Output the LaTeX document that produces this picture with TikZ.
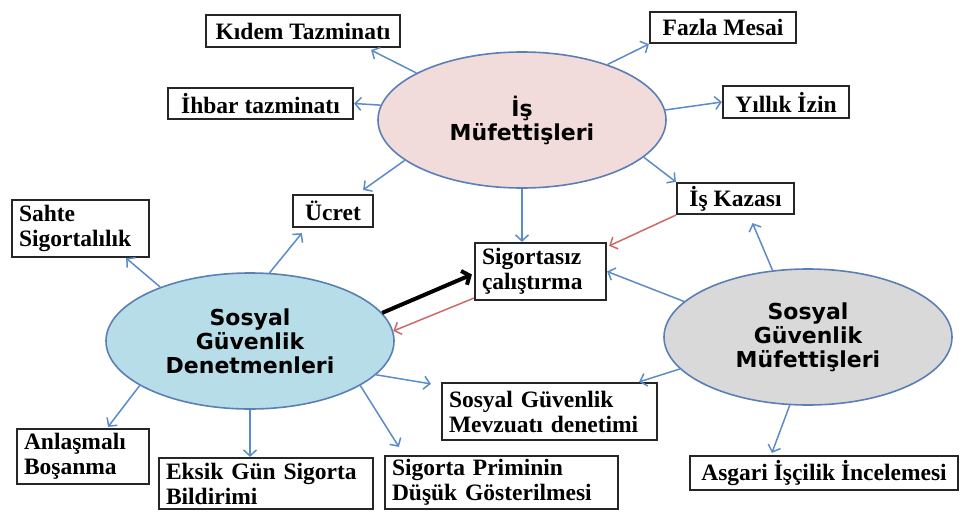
\documentclass[tikz,border=0pt]{standalone}
\usepackage{fontspec}
\setmainfont{Liberation Serif}
\newfontfamily\ellfont{DejaVu Sans}
\usetikzlibrary{shapes.geometric,arrows.meta,calc}
\definecolor{boxline}{HTML}{262626}
\definecolor{ellline}{HTML}{5B7FB5}
\definecolor{arrblue}{HTML}{5B8BC9}
\definecolor{arrred}{HTML}{CD6A68}
\definecolor{pinkfill}{HTML}{F2DCDB}
\definecolor{bluefill}{HTML}{B7DEE8}
\definecolor{grayfill}{HTML}{D9D9D9}
\begin{document}
\begin{tikzpicture}[x=1pt,y=-1pt,
  box/.style={draw=boxline, line width=2.2pt, fill=white, inner xsep=7pt, inner ysep=0pt,
    font=\bfseries\fontsize{23.5}{25}\selectfont},
  twoline/.style={align=left, minimum height=#1},
  ell/.style={ellipse, draw=ellline, line width=1.6pt, minimum width=288pt, minimum height=136pt,
    inner sep=0pt, align=center, font=\ellfont\bfseries\fontsize{22}{24}\selectfont},
  arr/.style={draw=arrblue, line width=1.5pt, -{Straight Barb[length=6pt,width=13pt]}},
  redarr/.style={draw=arrred, line width=1.5pt, -{Straight Barb[length=6pt,width=13pt]}},
  blkarr/.style={draw=black, line width=4pt, -{Straight Barb[length=6pt,width=15pt]}}]
\useasboundingbox (0,0) rectangle (960,511);

% ellipses
\node[ell, fill=pinkfill] (A) at (522,120) {İş\\Müfettişleri};
\node[ell, fill=bluefill] (B) at (250,341) {Sosyal\\Güvenlik\\Denetmenleri};
\node[ell, fill=grayfill] (C) at (808,337) {Sosyal\\Güvenlik\\Müfettişleri};

% boxes
\node[box, minimum width=194pt, minimum height=32pt] (kidem) at (303,31) {Kıdem Tazminatı};
\node[box, minimum width=185pt, minimum height=31pt] (ihbar) at (260.5,103.5) {İhbar tazminatı};
\node[box, minimum width=80pt, minimum height=32pt] (ucret) at (333,211) {Ücret};
\node[box, text width=123pt, twoline=57pt] (sahte) at (80.5,228.5) {Sahte\\Sigortalılık};
\node[box, minimum width=146pt, minimum height=31pt] (fazla) at (723,27.5) {Fazla Mesai};
\node[box, minimum width=126pt, minimum height=32pt] (yillik) at (786,102) {Yıllık İzin};
\node[box, minimum width=117pt, minimum height=31pt] (kaza) at (735.5,198.5) {İş Kazası};
\node[box, text width=117pt, twoline=57pt] (sig) at (540.5,271.5) {Sigortasız\\çalıştırma};
\node[box, text width=118pt, twoline=55pt] (anl) at (83,456.5) {Anlaşmalı\\Boşanma};
\node[box, text width=200pt, twoline=51pt] (eksik) at (266,483.5) {Eksik Gün Sigorta\\Bildirimi};
\node[box, text width=219pt, twoline=53pt] (prim) at (501.5,482.5) {Sigorta Priminin\\Düşük Gösterilmesi};
\node[box, text width=201pt, twoline=57pt] (mevz) at (549.5,411.5) {Sosyal Güvenlik\\Mevzuatı denetimi};
\node[box, minimum width=268pt, minimum height=34pt] (asgari) at (824,473) {Asgari İşçilik İncelemesi};

% arrows from İş Müfettişleri
\draw[arr] (A.156) -- ($(kidem.south east)+(-30,2)$);
\draw[arr] (A.174) -- (ihbar.east);
\draw[arr] (A.-161) -- ($(ucret.north east)+(-11,-4)$);
\draw[arr] (A.33) -- (fazla.south west);
\draw[arr] (A.4) -- (yillik.west);
\draw[arr] (A.-17) -- (kaza.north west);
\draw[arr] (A.south) -- (A.south |- sig.north);
\draw[redarr] (kaza.south west) -- ($(sig.north east)+(2,4)$);

% arrows from Sosyal Güvenlik Müfettişleri
\draw[arr] (C.118) -- ($(kaza.south)+(17,8)$);
\draw[arr] (C.164.5) -- (sig.east);
\draw[arr] (C.-166) -- ($(mevz.north east)+(-19,0)$);
\draw[arr] (C.-105) -- ($(asgari.north west)+(83,-2)$);

% arrows from Sosyal Güvenlik Denetmenleri
\draw[blkarr] (B.12) -- ($(sig.west)+(-2,3)$);
\draw[redarr] ($(sig.south west)+(0,-3)$) -- (B.4);
\draw[arr] (B.149) -- ($(sahte.south east)+(-24,0)$);
\draw[arr] (B.74) -- ($(ucret.south west)+(10,5)$);
\draw[arr] (B.202) -- ($(anl.north)+(25,-1)$);
\draw[arr] (B.south) -- (B.south |- eksik.north);
\draw[arr] (B.-22) -- ($(prim.north west)+(15,-8)$);
\draw[arr] (B.-15) -- ($(mevz.north west)+(-10,2)$);
\end{tikzpicture}
\end{document}
